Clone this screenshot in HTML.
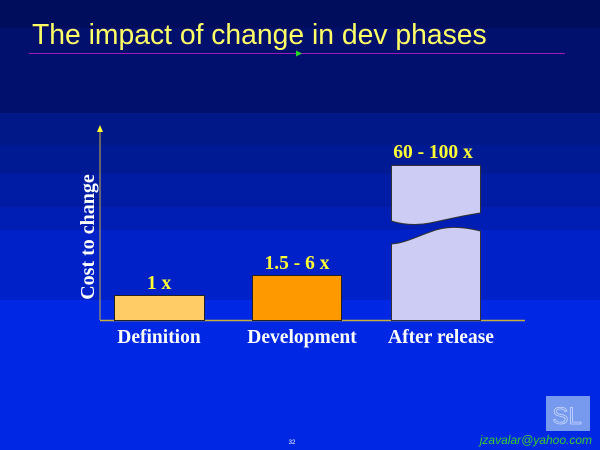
<!DOCTYPE html>
<html><head><meta charset="utf-8"><style>
body{margin:0;width:600px;height:450px;overflow:hidden;background:#0028e0}
svg{display:block}
</style></head><body>
<svg width="600" height="450" xmlns="http://www.w3.org/2000/svg">
<rect x="0" y="0" width="600" height="450" fill="#0028e4"/>
<rect x="0" y="0" width="600" height="28" fill="#000c5c"/>
<rect x="0" y="28" width="600" height="85" fill="#00106c"/>
<rect x="0" y="113" width="600" height="32" fill="#001888"/>
<rect x="0" y="145" width="600" height="29" fill="#001a94"/>
<rect x="0" y="174" width="600" height="33" fill="#001ca4"/>
<rect x="0" y="207" width="600" height="23" fill="#001eb4"/>
<rect x="0" y="230" width="600" height="70" fill="#0020c8"/>
<text x="32" y="44" font-family="Liberation Sans, sans-serif" font-size="28.3" fill="#ffff66">The impact of change in dev phases</text>
<line x1="29" y1="53.5" x2="565" y2="53.5" stroke="#9a1ab8" stroke-width="1"/>
<polygon points="296,50.5 302,53.5 296,56.5" fill="#22dd22"/>
<line x1="100" y1="128" x2="100" y2="320" stroke="#c8b040" stroke-width="1"/>
<polygon points="97,132 100,125 103,132" fill="#ffff33"/>
<line x1="100" y1="320.5" x2="525" y2="320.5" stroke="#c8b040" stroke-width="1.5"/>
<rect x="114.5" y="295.5" width="90" height="25" fill="#ffcc66" stroke="#222" stroke-width="1"/>
<rect x="252.5" y="275.5" width="89" height="45" fill="#ff9900" stroke="#222" stroke-width="1"/>
<path d="M391.5,165.5 H480.5 V213 C465,215 445,220 430,223 C415,226 400,224 391.5,221 Z" fill="#ccccf4" stroke="#333" stroke-width="1"/>
<path d="M391.5,244 C405,243 418,236 430,232 C445,226 460,226 480.5,231 V320.5 H391.5 Z" fill="#ccccf4" stroke="#333" stroke-width="1"/>
<g font-family="Liberation Serif, serif" font-weight="bold" font-size="19.5" text-anchor="middle">
<text x="159" y="289" fill="#ffff33">1 x</text>
<text x="297" y="269" fill="#ffff33">1.5 - 6 x</text>
<text x="433" y="158" fill="#ffff33">60 - 100 x</text>
<text x="159" y="343" fill="#ffffff">Definition</text>
<text x="302" y="343" fill="#ffffff">Development</text>
<text x="441" y="343" fill="#ffffff">After release</text>
<text x="0" y="0" fill="#ffffff" font-size="20" transform="translate(94,237) rotate(-90)">Cost to change</text>
</g>
<rect x="546" y="396" width="44" height="35" fill="#7799ee"/>
<text x="567" y="424" font-family="Liberation Sans, sans-serif" font-size="24" fill="none" stroke="#c8d8ff" stroke-width="0.8" text-anchor="middle">SL</text>
<text x="592" y="444" font-family="Liberation Sans, sans-serif" font-style="italic" font-size="12" fill="#33cc33" text-anchor="end">jzavalar@yahoo.com</text>
<text x="292" y="444" font-family="Liberation Sans, sans-serif" font-size="6" fill="#ffffff" text-anchor="middle">32</text>
</svg>
</body></html>
